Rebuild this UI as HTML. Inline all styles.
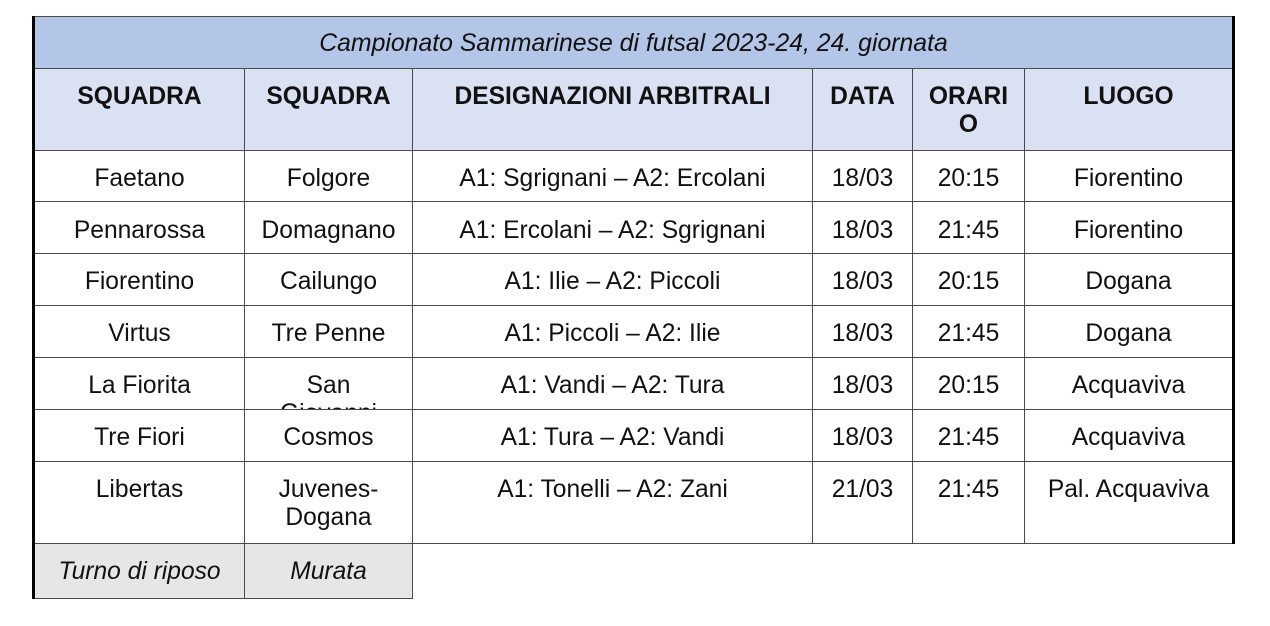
<!DOCTYPE html>
<html>
<head>
<meta charset="utf-8">
<style>
html,body{margin:0;padding:0;background:#fff;}
body{width:1270px;height:626px;position:relative;overflow:hidden;font-family:"Liberation Sans",Arial,sans-serif;color:#111;}
.bg{position:absolute;}
.h{position:absolute;height:1px;background:#4a4a4a;}
.v{position:absolute;width:1px;background:#4a4a4a;}
.t{position:absolute;text-align:center;font-size:24.6px;line-height:28.3px;white-space:nowrap;overflow:hidden;}
.b{font-weight:bold;}
.i{font-style:italic;}
</style>
</head>
<body>
<!-- backgrounds -->
<div class="bg" style="left:33px;top:16px;width:1200px;height:52px;background:#b4c6e7;"></div>
<div class="bg" style="left:33px;top:68px;width:1200px;height:82px;background:#d9e1f2;"></div>
<div class="bg" style="left:33px;top:543px;width:379px;height:55px;background:#e6e6e6;"></div>

<!-- horizontal lines -->
<div class="h" style="left:33px;top:16px;width:1200px;"></div>
<div class="h" style="left:33px;top:68px;width:1200px;"></div>
<div class="h" style="left:33px;top:150px;width:1200px;"></div>
<div class="h" style="left:33px;top:201px;width:1200px;"></div>
<div class="h" style="left:33px;top:253px;width:1200px;"></div>
<div class="h" style="left:33px;top:305px;width:1200px;"></div>
<div class="h" style="left:33px;top:357px;width:1200px;"></div>
<div class="h" style="left:33px;top:409px;width:1200px;"></div>
<div class="h" style="left:33px;top:461px;width:1200px;"></div>
<div class="h" style="left:33px;top:543px;width:1200px;"></div>
<div class="h" style="left:33px;top:598px;width:380px;"></div>

<!-- vertical lines -->
<div class="v" style="left:244px;top:68px;height:531px;"></div>
<div class="v" style="left:412px;top:68px;height:531px;"></div>
<div class="v" style="left:812px;top:68px;height:476px;"></div>
<div class="v" style="left:912px;top:68px;height:476px;"></div>
<div class="v" style="left:1024px;top:68px;height:476px;"></div>

<!-- thick borders -->
<div class="bg" style="left:32px;top:16px;width:3px;height:583px;background:#000;"></div>
<div class="bg" style="left:1232px;top:16px;width:3px;height:528px;background:#000;"></div>

<!-- title -->
<div class="t i" style="left:35px;top:30px;width:1197px;font-size:24.8px;">Campionato Sammarinese di futsal 2023-24, 24. giornata</div>

<!-- header -->
<div class="t b" style="left:35px;top:83px;width:209px;">SQUADRA</div>
<div class="t b" style="left:245px;top:83px;width:167px;">SQUADRA</div>
<div class="t b" style="left:413px;top:83px;width:399px;">DESIGNAZIONI ARBITRALI</div>
<div class="t b" style="left:813px;top:83px;width:99px;">DATA</div>
<div class="t b" style="left:913px;top:83px;width:111px;">ORARI<br>O</div>
<div class="t b" style="left:1025px;top:83px;width:207px;">LUOGO</div>

<!-- row 1 -->
<div class="t" style="left:35px;top:165px;width:209px;">Faetano</div>
<div class="t" style="left:245px;top:165px;width:167px;">Folgore</div>
<div class="t" style="left:413px;top:165px;width:399px;">A1: Sgrignani – A2: Ercolani</div>
<div class="t" style="left:813px;top:165px;width:99px;">18/03</div>
<div class="t" style="left:913px;top:165px;width:111px;">20:15</div>
<div class="t" style="left:1025px;top:165px;width:207px;">Fiorentino</div>

<!-- row 2 -->
<div class="t" style="left:35px;top:216.5px;width:209px;">Pennarossa</div>
<div class="t" style="left:245px;top:216.5px;width:167px;">Domagnano</div>
<div class="t" style="left:413px;top:216.5px;width:399px;">A1: Ercolani – A2: Sgrignani</div>
<div class="t" style="left:813px;top:216.5px;width:99px;">18/03</div>
<div class="t" style="left:913px;top:216.5px;width:111px;">21:45</div>
<div class="t" style="left:1025px;top:216.5px;width:207px;">Fiorentino</div>

<!-- row 3 -->
<div class="t" style="left:35px;top:268px;width:209px;">Fiorentino</div>
<div class="t" style="left:245px;top:268px;width:167px;">Cailungo</div>
<div class="t" style="left:413px;top:268px;width:399px;">A1: Ilie – A2: Piccoli</div>
<div class="t" style="left:813px;top:268px;width:99px;">18/03</div>
<div class="t" style="left:913px;top:268px;width:111px;">20:15</div>
<div class="t" style="left:1025px;top:268px;width:207px;">Dogana</div>

<!-- row 4 -->
<div class="t" style="left:35px;top:320px;width:209px;">Virtus</div>
<div class="t" style="left:245px;top:320px;width:167px;">Tre Penne</div>
<div class="t" style="left:413px;top:320px;width:399px;">A1: Piccoli – A2: Ilie</div>
<div class="t" style="left:813px;top:320px;width:99px;">18/03</div>
<div class="t" style="left:913px;top:320px;width:111px;">21:45</div>
<div class="t" style="left:1025px;top:320px;width:207px;">Dogana</div>

<!-- row 5 -->
<div class="t" style="left:35px;top:372px;width:209px;">La Fiorita</div>
<div class="t" style="left:245px;top:372px;width:167px;height:37px;">San<br>Giovanni</div>
<div class="t" style="left:413px;top:372px;width:399px;">A1: Vandi – A2: Tura</div>
<div class="t" style="left:813px;top:372px;width:99px;">18/03</div>
<div class="t" style="left:913px;top:372px;width:111px;">20:15</div>
<div class="t" style="left:1025px;top:372px;width:207px;">Acquaviva</div>

<!-- row 6 -->
<div class="t" style="left:35px;top:424px;width:209px;">Tre Fiori</div>
<div class="t" style="left:245px;top:424px;width:167px;">Cosmos</div>
<div class="t" style="left:413px;top:424px;width:399px;">A1: Tura – A2: Vandi</div>
<div class="t" style="left:813px;top:424px;width:99px;">18/03</div>
<div class="t" style="left:913px;top:424px;width:111px;">21:45</div>
<div class="t" style="left:1025px;top:424px;width:207px;">Acquaviva</div>

<!-- row 7 -->
<div class="t" style="left:35px;top:476px;width:209px;">Libertas</div>
<div class="t" style="left:245px;top:476px;width:167px;">Juvenes-<br>Dogana</div>
<div class="t" style="left:413px;top:476px;width:399px;">A1: Tonelli – A2: Zani</div>
<div class="t" style="left:813px;top:476px;width:99px;">21/03</div>
<div class="t" style="left:913px;top:476px;width:111px;">21:45</div>
<div class="t" style="left:1025px;top:476px;width:207px;">Pal. Acquaviva</div>

<!-- bottom row -->
<div class="t i" style="left:35px;top:558px;width:209px;">Turno di riposo</div>
<div class="t i" style="left:245px;top:558px;width:167px;">Murata</div>
</body>
</html>
